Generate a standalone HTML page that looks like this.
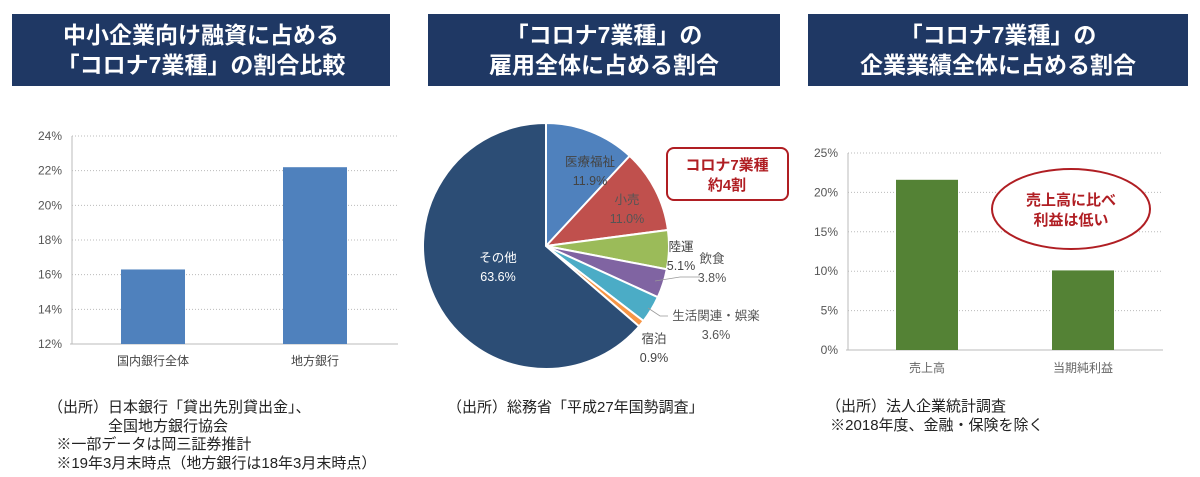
<!DOCTYPE html>
<html><head><meta charset="utf-8">
<style>
body{margin:0;width:1200px;height:477px;background:#fff;overflow:hidden;position:relative;font-family:"Liberation Sans","Noto Sans CJK JP",sans-serif;}
.hd{position:absolute;top:14px;height:72px;background:#1f3864;color:#fff;font-weight:bold;font-size:23px;line-height:30px;text-align:center;display:flex;align-items:center;justify-content:center;}
.note{position:absolute;font-size:15px;color:#222;line-height:18.5px;white-space:pre;}
svg{position:absolute;left:0;top:0}
</style></head><body>
<div class="hd" style="left:12px;width:378px">中小企業向け融資に占める<br>「コロナ7業種」の割合比較</div>
<div class="hd" style="left:428px;width:352px">「コロナ7業種」の<br>雇用全体に占める割合</div>
<div class="hd" style="left:808px;width:380px">「コロナ7業種」の<br>企業業績全体に占める割合</div>

<svg id="c" width="1200" height="477"></svg>

<div class="note" style="left:48px;top:399px">（出所）日本銀行「貸出先別貸出金」、
　　　　全国地方銀行協会
  ※一部データは岡三証券推計
  ※19年3月末時点（地方銀行は18年3月末時点）</div>
<div class="note" style="left:447px;top:399px">（出所）総務省「平成27年国勢調査」</div>
<div class="note" style="left:826px;top:398px">（出所）法人企業統計調査
 ※2018年度、金融・保険を除く</div>

<script>
const c1Cats=["国内銀行全体","地方銀行"];
const c1Vals=[16.3,22.2];
const c1Ticks=[12,14,16,18,20,22,24];
const pieCats=["医療福祉","小売","陸運","飲食","生活関連・娯楽","宿泊","その他"];
const pieVals=[11.9,11.0,5.1,3.8,3.6,0.9,63.6];
const c3Cats=["売上高","当期純利益"];
const c3Vals=[21.6,10.1];
const c3Ticks=[0,5,10,15,20,25];

const NS="http://www.w3.org/2000/svg";
const svg=document.getElementById('c');
function mk(t,a,p){const e=document.createElementNS(NS,t);for(const k in a)e.setAttribute(k,a[k]);(p||svg).appendChild(e);return e;}

// chart 1
(function(){
const y=v=>344-(v-12)/(24-12)*208;
c1Ticks.forEach(t=>{
 if(t>12){const g=mk('line',{x1:72,x2:398,y1:y(t),y2:y(t),stroke:'#bbb','stroke-dasharray':'1,2'});
 }
 const l=mk('text',{x:62,y:y(t)+4,'text-anchor':'end','font-size':12,fill:'#555'});l.textContent=t+'%';
 
});
mk('line',{x1:72,x2:72,y1:136,y2:344,stroke:'#bbb'});
mk('line',{x1:70,x2:398,y1:344,y2:344,stroke:'#bbb'});
const cx=[153,315];
c1Vals.forEach((v,i)=>{
 const r=mk('rect',{x:cx[i]-32,y:y(v),width:64,height:344-y(v),fill:'#4f81bd'});
 
 const l=mk('text',{x:cx[i],y:365,'text-anchor':'middle','font-size':12,fill:'#444'});l.textContent=c1Cats[i];
 
});
})();

// pie
(function(){
const cx=546,cy=246,R=123;
const cols=['#4f81bd','#c0504d','#9bbb59','#8064a2','#4bacc6','#f79646','#2c4d75'];
const tot=pieVals.reduce((a,b)=>a+b,0);
let a0=0;
const pt=(a,r)=>[cx+r*Math.sin(a),cy-r*Math.cos(a)];
pieVals.forEach((v,i)=>{
 const a1=a0+v/tot*2*Math.PI;
 const p0=pt(a0,R),p1=pt(a1,R);
 const p=mk('path',{d:`M${cx},${cy}L${p0[0]},${p0[1]}A${R},${R} 0 ${a1-a0>Math.PI?1:0} 1 ${p1[0]},${p1[1]}Z`,fill:cols[i],stroke:'#fff','stroke-width':2});
 
 a0=a1;
});
const labs=[[590,166,'#444'],[627,204,'#555'],[681,251,'#444'],[712,263,'#555'],[716,320,'#555'],[654,343,'#444'],[498,262,'#fff']];
pieVals.forEach((v,i)=>{
 const [x,yy,f]=labs[i];
 const t=mk('text',{x:x,y:yy,'text-anchor':'middle','font-size':12.5,fill:f});
 
 const s1=mk('tspan',{x:x,dy:0},t);s1.textContent=pieCats[i];
 const s2=mk('tspan',{x:x,dy:19},t);s2.textContent=v.toFixed(1)+'%';
});
mk('polyline',{points:'655,281 680,277 700,277',fill:'none',stroke:'#999','stroke-width':0.8});
mk('polyline',{points:'648,308 660,316 668,316',fill:'none',stroke:'#999','stroke-width':0.8});
const b=mk('rect',{x:667,y:148,width:121,height:52,rx:7,fill:'#fff',stroke:'#b01e23','stroke-width':2});

const t=mk('text',{'text-anchor':'middle','font-size':15,'font-weight':'bold',fill:'#b01e23'});

mk('tspan',{x:727,y:170},t).textContent='コロナ7業種';
mk('tspan',{x:727,y:190},t).textContent='約4割';
})();

// chart 3
(function(){
const y=v=>350-v/25*197;
c3Ticks.forEach(t=>{
 if(t>0){const g=mk('line',{x1:848,x2:1163,y1:y(t),y2:y(t),stroke:'#bbb','stroke-dasharray':'1,2'});
 }
 const l=mk('text',{x:838,y:y(t)+4,'text-anchor':'end','font-size':12,fill:'#555'});l.textContent=t+'%';
 
});
mk('line',{x1:848,x2:848,y1:153,y2:350,stroke:'#bbb'});
mk('line',{x1:846,x2:1163,y1:350,y2:350,stroke:'#bbb'});
const cx=[927,1083];
c3Vals.forEach((v,i)=>{
 const r=mk('rect',{x:cx[i]-31,y:y(v),width:62,height:350-y(v),fill:'#548235'});
 
 const l=mk('text',{x:cx[i],y:372,'text-anchor':'middle','font-size':12,fill:'#666'});l.textContent=c3Cats[i];
 
});
const e=mk('ellipse',{cx:1071,cy:209,rx:79,ry:40,fill:'#fff',stroke:'#b01e23','stroke-width':2});

const t=mk('text',{'text-anchor':'middle','font-size':15,'font-weight':'bold',fill:'#b01e23'});

mk('tspan',{x:1071,y:205},t).textContent='売上高に比べ';
mk('tspan',{x:1071,y:225},t).textContent='利益は低い';
})();
</script>
</body></html>
